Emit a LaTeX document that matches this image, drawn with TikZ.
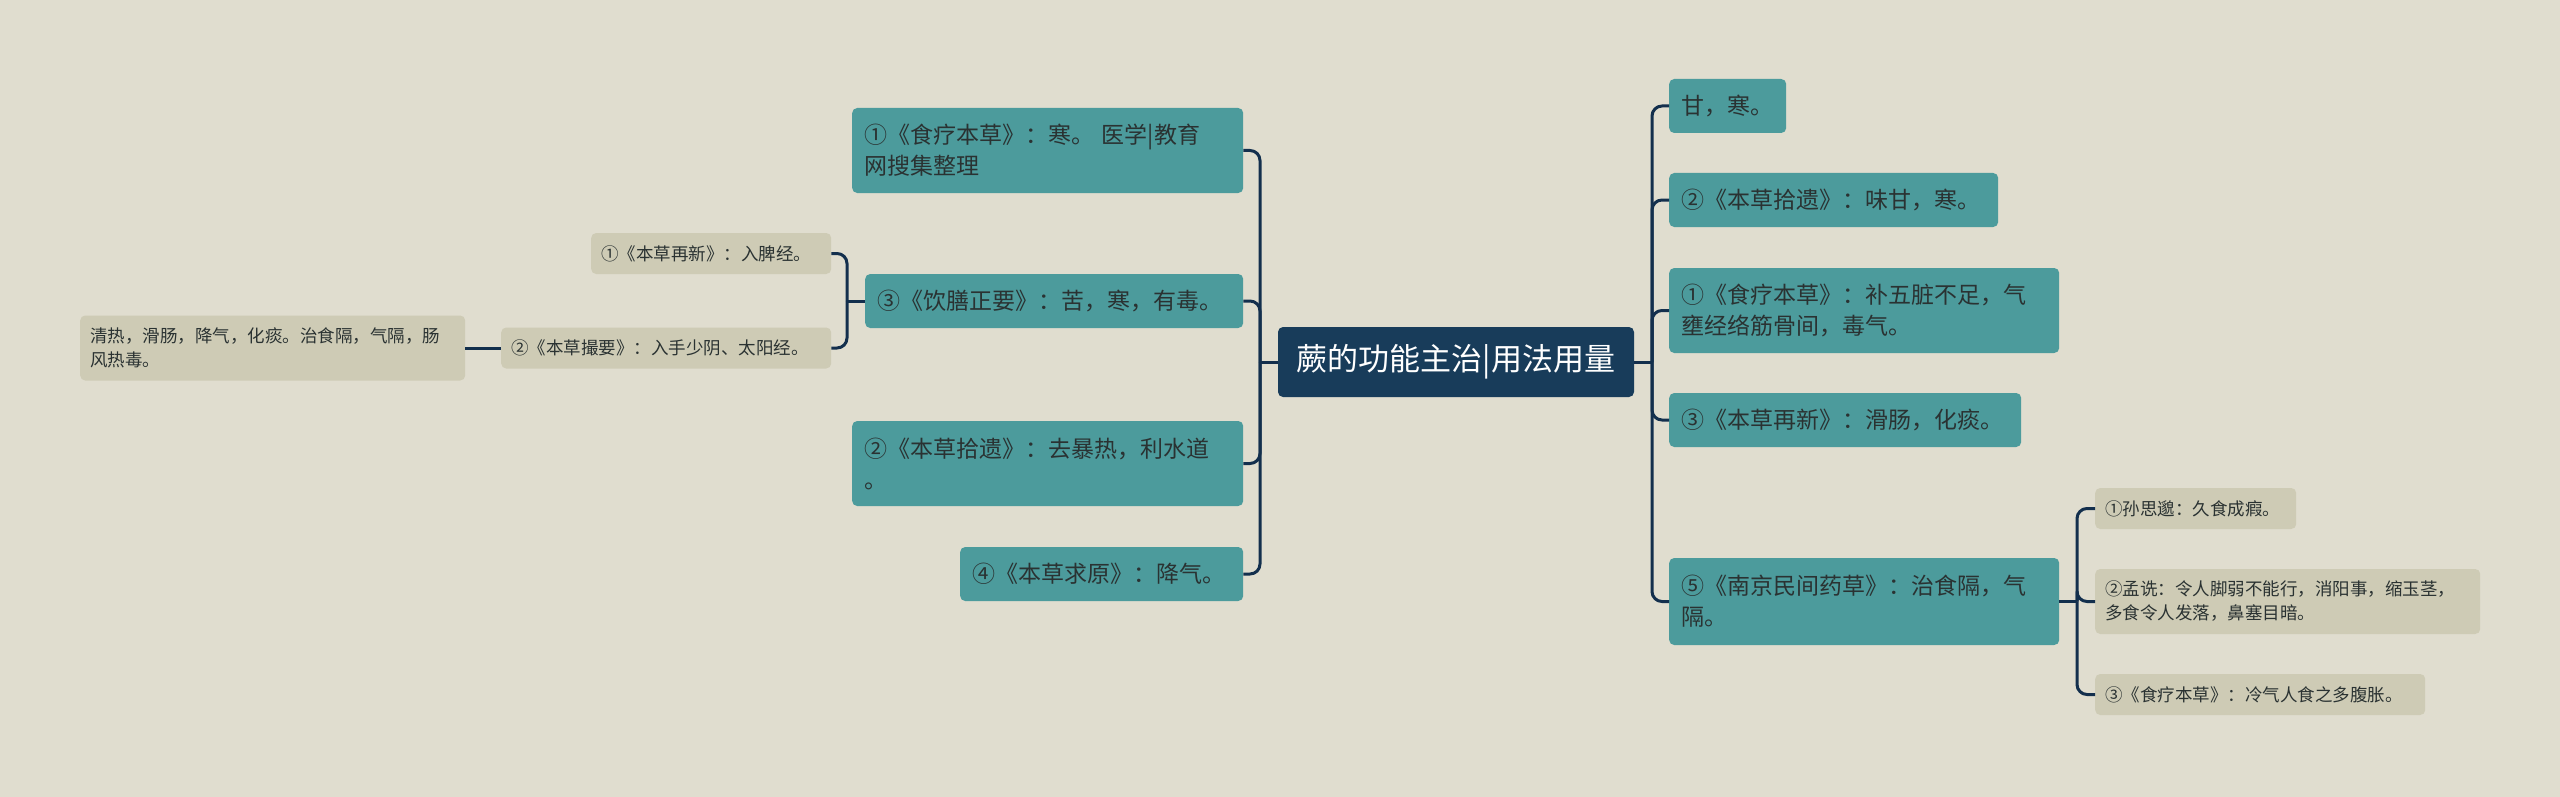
\documentclass[tikz,border=0pt]{standalone}
\usepackage{fontspec}
\newfontfamily\cjk{Noto Sans CJK SC}
\definecolor{bgcol}{HTML}{E0DDCF}
\definecolor{rootcol}{HTML}{183C5A}
\definecolor{topiccol}{HTML}{4C9B9C}
\definecolor{leafcol}{HTML}{CECBB5}
\definecolor{linkcol}{HTML}{132F4D}
\definecolor{txtcol}{HTML}{2A3232}
\tikzset{
 rootbox/.style={fill=rootcol,text=white,rounded corners=5pt,font=\cjk\fontsize{31}{38}\selectfont,inner xsep=16pt,inner ysep=4pt,minimum width=356pt,minimum height=70pt},
 topicbox/.style={fill=topiccol,text=txtcol,rounded corners=5pt,font=\cjk\fontsize{23}{31}\selectfont,inner xsep=12pt,inner ysep=4pt,align=left,anchor=#1},
 leafbox/.style={fill=leafcol,text=txtcol,rounded corners=5pt,font=\cjk\fontsize{17.5}{24}\selectfont,inner xsep=10pt,inner ysep=3pt,align=left,anchor=#1},
 link/.style={draw=linkcol,line width=3pt,rounded corners=10pt}
}
\begin{document}
\begin{tikzpicture}[x=1pt,y=-1pt]
 \fill[bgcol](0,0) rectangle (2560,797);
 \useasboundingbox (0,0) rectangle (2560,797);
 \node[rootbox] (root) at (1456,362) {蕨的功能主治|用法用量};
 % left side
 \node[topicbox=west,text width=367pt,minimum height=85pt] (lfood) at (852,150.5) {①《食疗本草》：寒。 医学|教育\\网搜集整理};
 \node[topicbox=west,text width=354pt,minimum height=54pt] (ldiet) at (865,301) {③《饮膳正要》：苦，寒，有毒。};
 \node[topicbox=west,text width=367pt,minimum height=85pt] (lshiyi) at (852,463.5) {②《本草拾遗》：去暴热，利水道\\。};
 \node[topicbox=west,text width=259pt,minimum height=54pt] (lqiuyuan) at (960,574) {④《本草求原》：降气。};
 \node[leafbox=west,text width=220pt,minimum height=41pt] (lzaixin) at (591,253.5) {①《本草再新》：入脾经。};
 \node[leafbox=west,text width=310pt,minimum height=41pt] (lcuoyao) at (501,348) {②《本草撮要》：入手少阴、太阳经。};
 \node[leafbox=west,text width=365pt,minimum height=65pt] (lqingre) at (80,348) {清热，滑肠，降气，化痰。治食隔，气隔，肠\\风热毒。};
 % right side
 \node[topicbox=west,text width=93pt,minimum height=54pt] (rgan) at (1669,106) {甘，寒。};
 \node[topicbox=west,text width=305pt,minimum height=54pt] (rshiyi) at (1669,200) {②《本草拾遗》：味甘，寒。};
 \node[topicbox=west,text width=366pt,minimum height=85pt] (rfood) at (1669,310.5) {①《食疗本草》：补五脏不足，气\\壅经络筋骨间，毒气。};
 \node[topicbox=west,text width=328pt,minimum height=54pt] (rzaixin) at (1669,420) {③《本草再新》：滑肠，化痰。};
 \node[topicbox=west,text width=366pt,minimum height=87pt] (rnanjing) at (1669,601.5) {⑤《南京民间药草》：治食隔，气\\隔。};
 \node[leafbox=west,text width=181pt,minimum height=41pt] (rsun) at (2095,508.5) {①孙思邈：久食成瘕。};
 \node[leafbox=west,text width=365pt,minimum height=65pt] (rmeng) at (2095,601.5) {②孟诜：令人脚弱不能行，消阳事，缩玉茎，\\多食令人发落，鼻塞目暗。};
 \node[leafbox=west,text width=310pt,minimum height=41pt] (rfoodb) at (2095,694.5) {③《食疗本草》：冷气人食之多腹胀。};
 % links
 \coordinate (lbus) at (1260,362);
 \coordinate (rbus) at (1652,362);
 \coordinate (dbus) at (847,301);
 \coordinate (nbus) at (2077,601.5);
 \draw[link](root.west)--(lbus);
 \draw[link](root.east)--(rbus);
 \draw[link](ldiet.west)--(dbus);
 \draw[link](rnanjing.east)--(nbus);
 \foreach \n in {lfood,ldiet,lshiyi,lqiuyuan} \draw[link](lbus)|-(\n.east);
 \foreach \n in {rgan,rshiyi,rfood,rzaixin,rnanjing} \draw[link](rbus)|-(\n.west);
 \foreach \n in {lzaixin,lcuoyao} \draw[link](dbus)|-(\n.east);
 \foreach \n in {rsun,rmeng,rfoodb} \draw[link](nbus)|-(\n.west);
 \draw[link](lcuoyao.west)--(lqingre.east);
\end{tikzpicture}
\end{document}
